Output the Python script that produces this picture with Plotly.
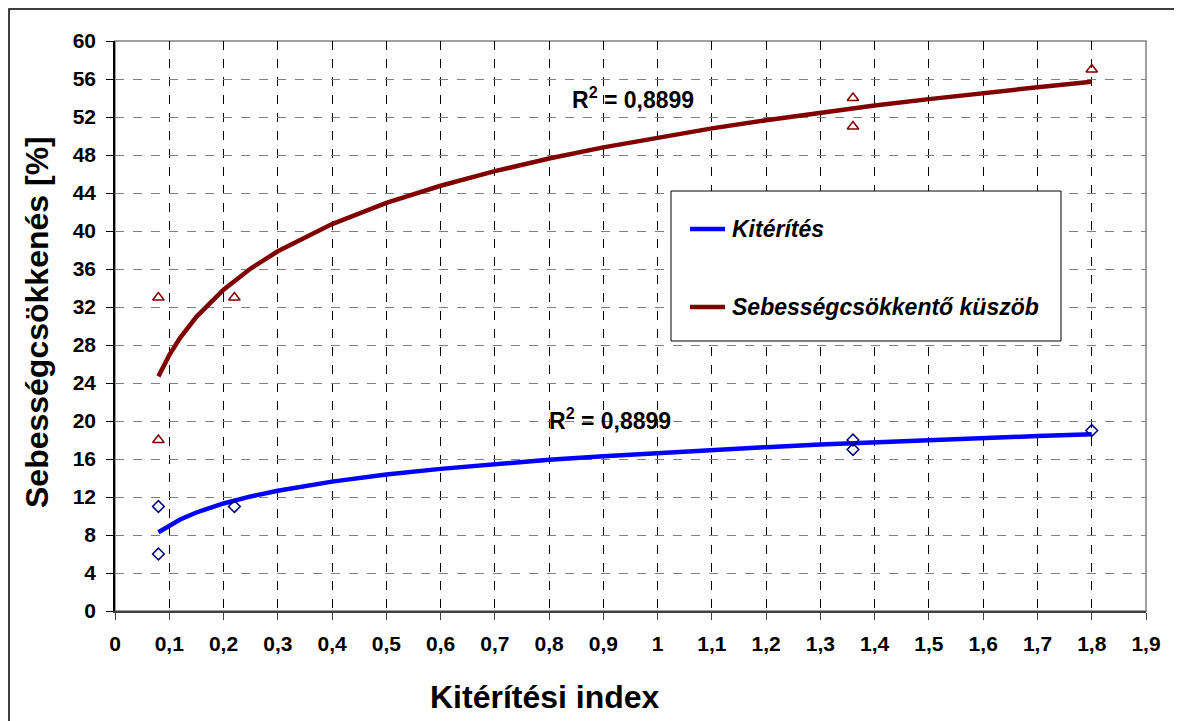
import plotly.graph_objects as go

# Observed points
kit_x = [0.08, 0.08, 0.22, 1.36, 1.36, 1.80]
kit_y = [11, 6, 11, 18, 17, 19]
seb_x = [0.08, 0.08, 0.22, 1.36, 1.36, 1.80]
seb_y = [33, 18, 33, 54, 51, 57]

# Logarithmic trendlines, values
trend_x = [0.08, 0.10, 0.12, 0.15, 0.20, 0.25, 0.30, 0.40, 0.50, 0.60, 0.70,
           0.80, 0.90, 1.00, 1.10, 1.20, 1.30, 1.40, 1.50, 1.60, 1.70, 1.80]
kit_trend = [8.29, 9.03, 9.63, 10.37, 11.32, 12.06, 12.66, 13.62, 14.36, 14.96, 15.47,
             15.91, 16.30, 16.65, 16.97, 17.25, 17.52, 17.76, 17.99, 18.21, 18.41, 18.60]
seb_trend = [24.70, 26.93, 28.75, 30.97, 33.83, 36.05, 37.86, 40.73, 42.95, 44.76, 46.30,
             47.63, 48.80, 49.85, 50.80, 51.66, 52.46, 53.20, 53.88, 54.53, 55.13, 55.70]

x_ticks = [round(i * 0.1, 1) for i in range(20)]
x_tick_labels = ["0" if v == 0 else ("1" if v == 1 else str(v).replace(".", ",")) for v in x_ticks]
y_ticks = list(range(0, 61, 4))

series_names = ["Kitérítés", "Sebességcsökkentő küszöb"]
r2_text = "R<sup>2</sup> = 0,8899"

FONT = "Arial, Liberation Sans, sans-serif"
BLUE = "#0000FF"
DARKRED = "#800000"
NAVY = "#000080"

fig = go.Figure()
fig.add_trace(go.Scatter(x=trend_x, y=seb_trend, mode="lines", name=series_names[1],
                         line=dict(color=DARKRED, width=4.5), showlegend=False))
fig.add_trace(go.Scatter(x=trend_x, y=kit_trend, mode="lines", name=series_names[0],
                         line=dict(color=BLUE, width=4.5), showlegend=False))
fig.add_trace(go.Scatter(x=kit_x, y=kit_y, mode="markers", showlegend=False,
                         marker=dict(symbol="diamond-open", size=9, color=NAVY,
                                     line=dict(width=1.5, color=NAVY))))
fig.add_trace(go.Scatter(x=seb_x, y=seb_y, mode="markers", showlegend=False,
                         marker=dict(symbol="triangle-up-open", size=10, color=DARKRED,
                                     line=dict(width=1.5, color=DARKRED))))

OFF = 8  # page offset of the figure (body margin)
W, H = 1182 - OFF, 721 - OFF
L, R, T, B = 115 - OFF, 1146 - OFF, 41 - OFF, 611 - OFF
pw, ph = R - L, B - T

def px(xp):
    """reference page x pixel -> paper coordinate"""
    return (xp - OFF - L) / pw

def py(yp):
    """reference page y pixel -> paper coordinate"""
    return (B - (yp - OFF)) / ph

shapes = []
# outer frame
shapes.append(dict(type="rect", xref="paper", yref="paper", x0=px(9), x1=px(1179),
                   y0=py(740), y1=py(9), line=dict(color="black", width=1.5), layer="below"))
# plot border top/right
shapes.append(dict(type="rect", xref="paper", yref="paper", x0=0, x1=1, y0=0, y1=1,
                   line=dict(color="#808080", width=1.5), layer="below"))
# legend box
shapes.append(dict(type="rect", xref="paper", yref="paper", x0=px(671), x1=px(1061),
                   y0=py(341), y1=py(191), line=dict(color="black", width=1),
                   fillcolor="white", layer="above"))
annotations = []
legend_rows = [(229, BLUE, series_names[0]), (307, DARKRED, series_names[1])]
for yy, col, name in legend_rows:
    shapes.append(dict(type="line", xref="paper", yref="paper", x0=px(690), x1=px(725),
                       y0=py(yy), y1=py(yy), line=dict(color=col, width=4.5), layer="above"))
    annotations.append(dict(xref="paper", yref="paper", x=px(730), y=py(yy), xanchor="left",
                            yanchor="middle", showarrow=False, text=f"<b><i>{name}</i></b>",
                            font=dict(family=FONT, size=23, color="black")))

def centered(x, y, text, size, angle=0):
    return dict(xref="paper", yref="paper", x=x, y=y, xanchor="center", yanchor="middle",
                showarrow=False, text=text, textangle=angle,
                font=dict(family=FONT, size=size, color="black"))

annotations.append(centered(px(633), py(98), f"<b>{r2_text}</b>", 23))
annotations.append(centered(px(610), py(419), f"<b>{r2_text}</b>", 23))
annotations.append(centered(px(545), py(697), "<b>Kitérítési index</b>", 32))
annotations.append(centered(px(37), py(322), "<b>Sebességcsökkenés [%]</b>", 32, -90))

fig.update_layout(
    width=W, height=H,
    margin=dict(l=L, r=W - R, t=T, b=H - B, pad=0),
    paper_bgcolor="white", plot_bgcolor="white",
    showlegend=False,
    shapes=shapes, annotations=annotations,
    font=dict(family=FONT, color="black"),
)
fig.update_xaxes(range=[0, 1.9], tickvals=x_ticks, ticktext=x_tick_labels,
                 showgrid=True, gridcolor="black", griddash="dash", gridwidth=1,
                 showline=True, linecolor="#404040", linewidth=1.5,
                 ticks="outside", ticklen=7, tickcolor="#404040",
                 tickfont=dict(family=FONT, size=21, weight="bold", color="black"),
                 ticklabelstandoff=6, zeroline=False)
fig.update_yaxes(range=[0, 60], tickvals=y_ticks,
                 showgrid=True, gridcolor="#808080", griddash="dash", gridwidth=1,
                 showline=True, linecolor="black", linewidth=1.5,
                 ticks="outside", ticklen=7, tickcolor="black",
                 tickfont=dict(family=FONT, size=21, weight="bold", color="black"),
                 ticklabelstandoff=6, zeroline=False)

fig.write_html("out.html")
